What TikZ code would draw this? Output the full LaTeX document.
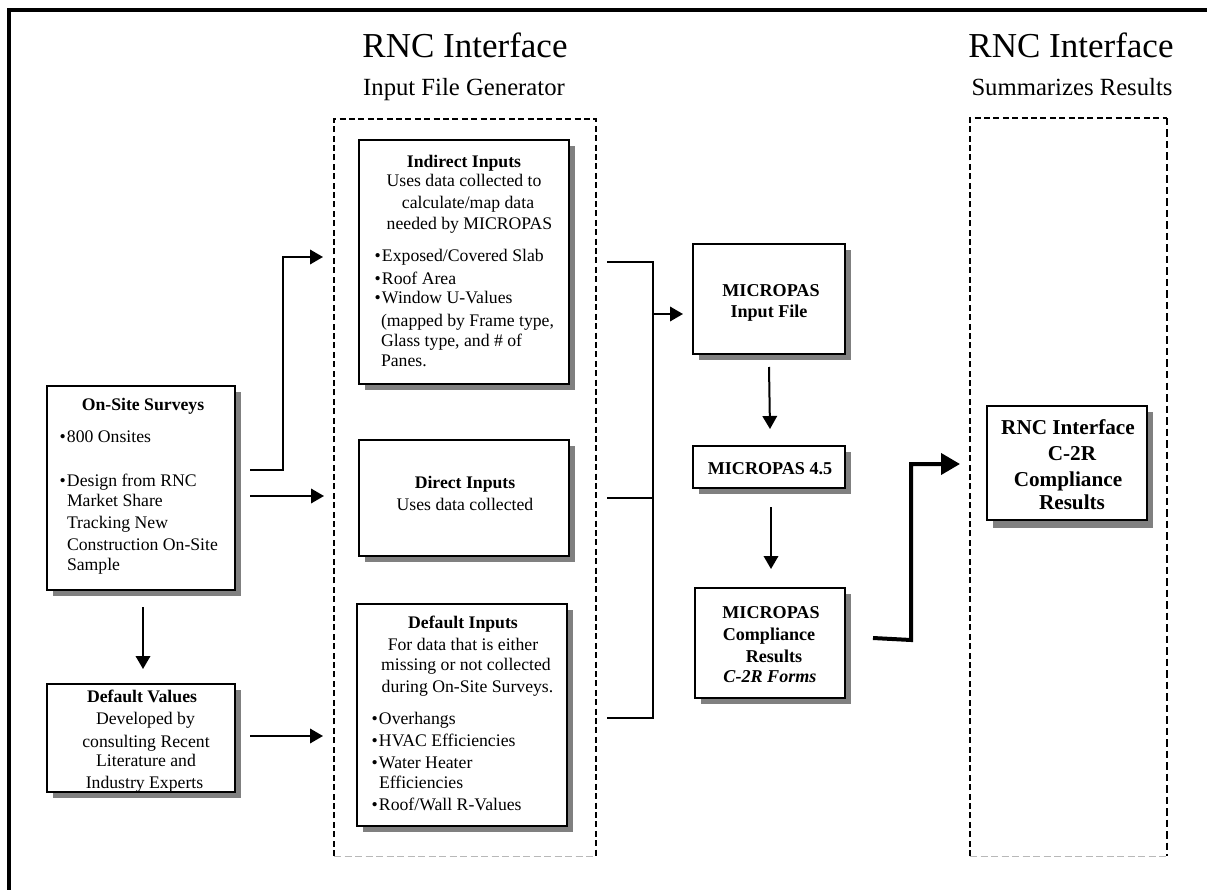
\documentclass[tikz,border=0pt]{standalone}
\usepackage{fontspec}
\setmainfont{Liberation Serif}
\usetikzlibrary{arrows.meta,shadows}
\definecolor{shadowgray}{HTML}{808080}
\definecolor{faintdash}{HTML}{B8B8B8}
% one line of text inside a box: centre x / left x, baseline y, measured from the box's top-left corner
\newcommand\Lc[3]{\vbox to 0pt{\kern#2pt\hbox to 0pt{\kern#1pt\smash{\hbox to 0pt{\hss#3\hss}}\hss}\vss}}
\newcommand\Ll[3]{\vbox to 0pt{\kern#2pt\hbox to 0pt{\kern#1pt\smash{\hbox to 0pt{#3\hss}}\hss}\vss}}
\newcommand\Lb[3]{\Ll{#1}{#2}{\llap{\textbullet\kern1.2pt}#3}}
\newcommand\Canvas[3]{\vbox to #2pt{\hsize=#1pt\offinterlineskip\hbox to #1pt{\hss}#3\vss}}
\newcommand\bodyf{\fontsize{17.7}{21}\selectfont}
\newcommand\midf{\bfseries\fontsize{18.1}{22}\selectfont}
\newcommand\bigf{\bfseries\fontsize{21.2}{26}\selectfont}
\begin{document}
\begin{tikzpicture}[x=1pt,y=-1pt,
  boxn/.style={draw=black,line width=2pt,fill=white,inner sep=0pt,outer sep=0pt,anchor=north west,
    general shadow={fill=shadowgray,shadow xshift=6pt,shadow yshift=-6pt},font=\bodyf},
  group/.style={inner sep=0pt,outer sep=0pt,anchor=north west},
  titlen/.style={anchor=base,inner sep=0pt,font=\fontsize{35}{40}\selectfont},
  subn/.style={anchor=base,inner sep=0pt,font=\fontsize{24.7}{28}\selectfont},
  conn/.style={line width=2pt,-{Triangle[length=13pt,width=14.5pt]}},
  plain/.style={line width=2pt},
  thickconn/.style={line width=4pt,-{Triangle[length=19pt,width=21pt]},line join=miter},
  dashthick/.style={line width=2.6pt,dash pattern=on 6pt off 3.4pt},
  dashthin/.style={line width=1.4pt,dash pattern=on 7.5pt off 4pt},
  dashfaint/.style={line width=1pt,draw=faintdash,dash pattern=on 7pt off 3.5pt},
  frameline/.style={line width=4pt,line join=miter}]
\useasboundingbox[fill=white] (0,0) rectangle (1207,890);
% frame
\coordinate (fa) at (9,890); \coordinate (fb) at (9,10.3); \coordinate (fc) at (1207,10.3);
\draw[frameline] (fa) -- (fb) -- (fc);
% titles
\node[titlen] (t1) at (465,58) {RNC Interface};
\node[subn] (s1) at (464,96) {Input File Generator};
\node[titlen] (t2) at (1071,58) {RNC Interface};
\node[subn] (s2) at (1072,96) {Summarizes Results};
% dashed groups
\node[group,minimum width=262pt,minimum height=737pt] (gin) at (334,119) {};
\draw[dashthick] (gin.south west) -- (gin.north west) -- (gin.north east) -- (gin.south east);
\draw[dashfaint] (gin.south west) -- (gin.south east);
\node[group,minimum width=197pt,minimum height=738pt] (gout) at (970,118) {};
\draw[dashthick] (gout.south west) -- (gout.north west) -- (gout.north east);
\draw[dashthin] (gout.north east) -- (gout.south east);
\draw[dashfaint] (gout.south west) -- (gout.south east);
% boxes
\node[boxn,minimum width=188pt,minimum height=204pt] (survey) at (47,386) {\Canvas{188}{204}{%
  \Lc{96}{24}{\bfseries On-Site Surveys}%
  \Lb{20}{56}{800 Onsites}%
  \Lb{20}{100}{Design from RNC}%
  \Ll{20}{120}{Market Share}%
  \Ll{20}{142}{Tracking New}%
  \Ll{20}{164}{Construction On-Site}%
  \Ll{20}{184}{Sample}}};
\node[boxn,minimum width=188pt,minimum height=108pt] (defval) at (47,684) {\Canvas{188}{108}{%
  \Lc{95}{18}{\bfseries Default Values}%
  \Lc{98.5}{40}{Developed by}%
  \Lc{99}{63}{consulting Recent}%
  \Lc{99}{82}{Literature and}%
  \Lc{97.5}{104}{Industry Experts}}};
\node[boxn,minimum width=210pt,minimum height=244pt] (indirect) at (359,140) {\Canvas{210}{244}{%
  \Lc{105}{27}{\bfseries Indirect Inputs}%
  \Lc{105}{47}{Uses data collected to}%
  \Lc{109}{68}{calculate/map data}%
  \Lc{110.5}{90}{needed by MICROPAS}%
  \Lb{23}{122}{Exposed/Covered Slab}%
  \Lb{23}{144}{Roof Area}%
  \Lb{23}{164}{Window U-Values}%
  \Ll{22}{186}{(mapped by Frame type,}%
  \Ll{22}{207}{Glass type, and \# of}%
  \Ll{22}{227}{Panes.}}};
\node[boxn,minimum width=210pt,minimum height=116pt] (direct) at (359,440) {\Canvas{210}{116}{%
  \Lc{106}{48}{\bfseries Direct Inputs}%
  \Lc{106}{70}{Uses data collected}}};
\node[boxn,minimum width=210pt,minimum height=222pt] (definp) at (357,604) {\Canvas{210}{222}{%
  \Lc{106}{24}{\bfseries Default Inputs}%
  \Lc{106}{46}{For data that is either}%
  \Lc{109}{66}{missing or not collected}%
  \Lc{110.5}{88}{during On-Site Surveys.}%
  \Lb{22}{120}{Overhangs}%
  \Lb{22}{142}{HVAC Efficiencies}%
  \Lb{22}{164}{Water Heater}%
  \Ll{22}{184}{Efficiencies}%
  \Lb{22}{206}{Roof/Wall R-Values}}};
\node[boxn,minimum width=152pt,minimum height=110pt] (mpin) at (693,244) {\Canvas{152}{110}{%
  \Lc{78}{52}{\midf MICROPAS}%
  \Lc{76}{74}{\midf Input File}}};
\node[boxn,minimum width=152pt,minimum height=42pt] (mp45) at (693,446) {\Canvas{152}{42}{%
  \Lc{77}{28}{\midf MICROPAS 4.5}}};
\node[boxn,minimum width=150pt,minimum height=110pt] (mpres) at (695,588) {\Canvas{150}{110}{%
  \Lc{76}{30}{\midf MICROPAS}%
  \Lc{74}{52}{\midf Compliance}%
  \Lc{79}{74}{\midf Results}%
  \Lc{75}{94}{\midf\itshape C-2R Forms}}};
\node[boxn,minimum width=160pt,minimum height=114pt,general shadow={fill=shadowgray,shadow xshift=6pt,shadow yshift=-8pt}] (rnc) at (987,406) {\Canvas{160}{114}{%
  \Lc{81}{28}{\bigf RNC Interface}%
  \Lc{85}{54}{\bigf C-2R}%
  \Lc{81}{80}{\bigf Compliance}%
  \Lc{85}{103}{\bigf Results}}};
% connector end points
\coordinate (a1) at (250,470); \coordinate (a2) at (283,470); \coordinate (a3) at (283,257); \coordinate (a4) at (323,257);
\coordinate (b1) at (250,496); \coordinate (b2) at (324,496);
\coordinate (c1) at (143,607); \coordinate (c2) at (143,669);
\coordinate (d1) at (250,736); \coordinate (d2) at (323,736);
\coordinate (m1) at (607,262); \coordinate (m2) at (653,262); \coordinate (m3) at (653,718); \coordinate (m4) at (607,718);
\coordinate (m5) at (607,498); \coordinate (m6) at (653,498);
\coordinate (m7) at (653,314); \coordinate (m8) at (683,314);
\coordinate (e1) at (769,367); \coordinate (e2) at (770,429);
\coordinate (f1) at (771,507); \coordinate (f2) at (771,569);
\coordinate (g1) at (873,638); \coordinate (g2) at (911,640); \coordinate (g3) at (911,464); \coordinate (g4) at (960,464);
% connectors
\draw[conn] (a1) -- (a2) -- (a3) -- (a4);
\draw[conn] (b1) -- (b2);
\draw[conn] (c1) -- (c2);
\draw[conn] (d1) -- (d2);
\draw[plain] (m1) -- (m2) -- (m3) -- (m4);
\draw[plain] (m5) -- (m6);
\draw[conn] (m7) -- (m8);
\draw[conn] (e1) -- (e2);
\draw[conn] (f1) -- (f2);
\draw[thickconn] (g1) -- (g2) -- (g3) -- (g4);
\end{tikzpicture}
\end{document}
